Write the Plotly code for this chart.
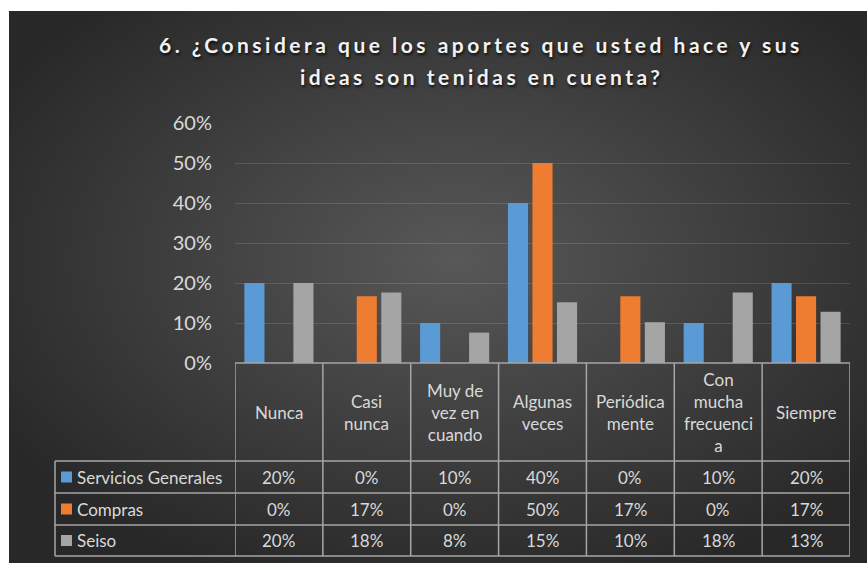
import base64
import plotly.graph_objects as go

# datos de la tabla
categorias = ["Nunca", "Casi nunca", "Muy de vez en cuando", "Algunas veces",
              "Periódicamente", "Con mucha frecuencia", "Siempre"]
etiquetas_tabla = ["Nunca", "Casi<br>nunca", "Muy de<br>vez en<br>cuando", "Algunas<br>veces",
                   "Periódica<br>mente", "Con<br>mucha<br>frecuenci<br>a", "Siempre"]
series = ["Servicios Generales", "Compras", "Seiso"]
servicios = [0.20, 0.0, 0.10, 0.40, 0.0, 0.10, 0.20]
compras = [0.0, 0.167, 0.0, 0.50, 0.167, 0.0, 0.167]
seiso = [0.20, 0.176, 0.076, 0.152, 0.102, 0.176, 0.128]
y_ticks = [0, 0.1, 0.2, 0.3, 0.4, 0.5, 0.6]

colores = ["#5b9bd5", "#ee7d31", "#a5a5a5"]
valores = [servicios, compras, seiso]

W, H = 867, 563
L, R, T, B = 235, 17, 123, 200
pw, ph = W - L - R, H - T - B


def px(x):
    return (x - L) / pw


def py(y):
    return (H - B - y) / ph


fondo = f"""<svg xmlns='http://www.w3.org/2000/svg' width='858' height='552'>
<defs><radialGradient id='g' cx='52%' cy='45%' r='62%'>
<stop offset='0' stop-color='#585858'/><stop offset='1' stop-color='#282828'/>
</radialGradient></defs><rect width='858' height='552' fill='url(#g)'/></svg>"""
fondo_uri = "data:image/svg+xml;base64," + base64.b64encode(fondo.encode()).decode()

fig = go.Figure()
for nombre, vals, col in zip(series, valores, colores):
    fig.add_trace(go.Bar(x=categorias, y=vals, name=nombre, marker_color=col,
                         marker_line_width=0, hoverinfo="skip"))

fuente = "Lato, 'Open Sans', sans-serif"
fig.update_layout(
    width=W, height=H,
    margin=dict(l=L, r=R, t=T, b=B, pad=0),
    paper_bgcolor="white", plot_bgcolor="rgba(0,0,0,0)",
    barmode="group", bargap=0.163, bargroupgap=0.18,
    showlegend=False,
    font=dict(family=fuente, color="#d9d9d9"),
    images=[dict(source=fondo_uri, xref="paper", yref="paper",
                 x=px(9), y=py(11), sizex=(W - 9) / pw, sizey=(H - 11) / ph,
                 sizing="stretch", layer="below", xanchor="left", yanchor="top")],
)
fig.update_xaxes(range=[-0.5, 6.5], showticklabels=False, showgrid=False,
                 zeroline=False, showline=False)
fig.update_yaxes(range=[0, 0.6], tickvals=y_ticks, tickformat=".0%",
                 tickfont=dict(size=20, color="#d9d9d9"), ticklabelstandoff=22,
                 showgrid=True, gridcolor="rgba(255,255,255,0.13)", gridwidth=1,
                 zeroline=False, showline=False)

# titulo
titulo = ["6. ¿Considera que los aportes que usted hace y sus",
          "ideas son tenidas en cuenta?"]
for linea, yy in zip(titulo, [44, 76]):
    fig.add_annotation(text=f"<b><span style='letter-spacing:3.5px'>{linea}</span></b>",
                       xref="paper", yref="paper", x=px(481), y=py(yy),
                       xanchor="center", yanchor="middle", showarrow=False,
                       font=dict(size=21, color="#f2f2f2",
                                 shadow="1px 2px 3px rgba(0,0,0,0.8)"))

# tabla de datos
linea_tabla = dict(color="#a6a6a6", width=1.5)
filas_y = [363, 461, 493, 525, 556]
fig.add_shape(type="line", xref="paper", yref="paper", x0=px(235), x1=px(850),
              y0=py(363), y1=py(363), line=linea_tabla)
for yy in filas_y[1:]:
    fig.add_shape(type="line", xref="paper", yref="paper", x0=px(55), x1=px(850),
                  y0=py(yy), y1=py(yy), line=linea_tabla)
for i in range(len(categorias) + 1):
    fig.add_shape(type="line", xref="x", yref="paper", x0=i - 0.5, x1=i - 0.5,
                  y0=py(363), y1=py(556), line=linea_tabla)
fig.add_shape(type="line", xref="paper", yref="paper", x0=px(55), x1=px(55),
              y0=py(461), y1=py(556), line=linea_tabla)

for i, etq in enumerate(etiquetas_tabla):
    fig.add_annotation(text=etq, xref="x", yref="paper", x=i, y=py(412),
                       xanchor="center", yanchor="middle", showarrow=False,
                       font=dict(size=17, color="#d9d9d9"))

for r, (nombre, vals, col) in enumerate(zip(series, valores, colores)):
    yc = (filas_y[r + 1] + filas_y[r + 2]) / 2
    fig.add_shape(type="rect", xref="paper", yref="paper", x0=px(61), x1=px(72),
                  y0=py(yc - 5.5), y1=py(yc + 5.5), fillcolor=col, line_width=0)
    fig.add_annotation(text=nombre, xref="paper", yref="paper", x=px(75), y=py(yc),
                       xanchor="left", yanchor="middle", showarrow=False,
                       font=dict(size=17, color="#d9d9d9"))
    for i, v in enumerate(vals):
        fig.add_annotation(text=f"{v:.0%}", xref="x", yref="paper", x=i, y=py(yc),
                           xanchor="center", yanchor="middle", showarrow=False,
                           font=dict(size=17, color="#d9d9d9"))

fig.write_html("out.html", config={"displayModeBar": False},
               post_script="document.body.style.margin='0';")
